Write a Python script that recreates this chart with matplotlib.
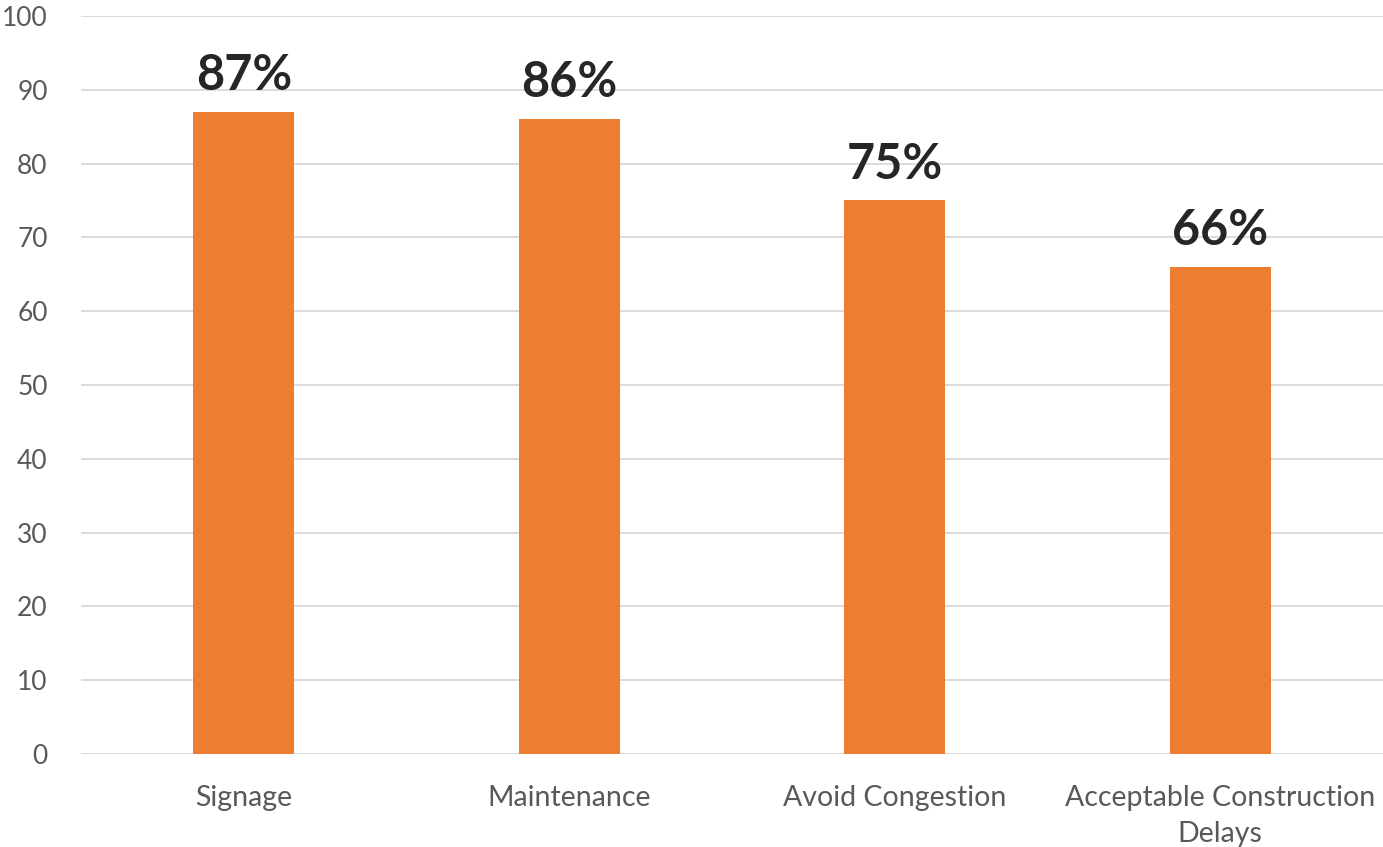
import matplotlib.pyplot as plt

categories = ['Signage', 'Maintenance', 'Avoid Congestion', 'Acceptable Construction\nDelays']
values = [87, 86, 75, 66]
labels = ['87%', '86%', '75%', '66%']

plt.rcParams['font.family'] = ['Lato', 'DejaVu Sans']

fig = plt.figure(figsize=(13.83, 8.47), dpi=100)
ax = fig.add_axes([81 / 1383, 93 / 847, 1302 / 1383, 738 / 847])

x = range(len(categories))
bars = ax.bar(x, values, width=0.31, color='#ED7D31', zorder=3)

for b, lab in zip(bars, labels):
    ax.annotate(lab, (b.get_x() + b.get_width() / 2, b.get_height()),
                xytext=(0, 10), textcoords='offset points',
                ha='center', va='bottom', fontsize=35, fontweight='bold', color='#262626')

ax.set_xlim(-0.5, len(categories) - 0.5)
ax.set_ylim(0, 100)
ax.set_yticks(range(0, 101, 10))
ax.set_xticks(list(x))
ax.set_xticklabels(categories, linespacing=1.5)
ax.yaxis.grid(True, color='#D9D9D9', linewidth=1.3, zorder=0)
for s in ax.spines.values():
    s.set_visible(False)
ax.tick_params(length=0, labelcolor='#595959')
ax.tick_params(axis='y', labelsize=19, pad=24)
ax.tick_params(axis='x', labelsize=20.5, pad=22)

fig.savefig('out.png', dpi=100)
